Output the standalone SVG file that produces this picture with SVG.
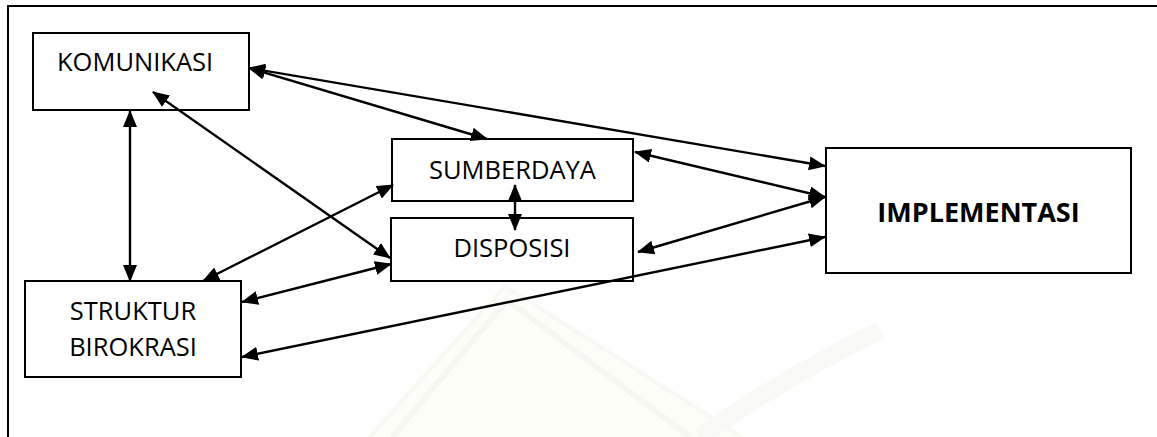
<svg xmlns="http://www.w3.org/2000/svg" width="1157" height="437" viewBox="0 0 1157 437">
  <style>
    .box { fill: #ffffff; stroke: #000000; stroke-width: 2; }
    .lbl { font-family: "Open Sans", "Noto Sans", "Liberation Sans", sans-serif; font-size: 25.5px; fill: #000000; }
    .bold { font-weight: bold; font-size: 27px; }
    .conn line { stroke: #000000; stroke-width: 2.4; marker-start: url(#ah); marker-end: url(#ah); }
  </style>
  <defs>
    <marker id="ah" markerUnits="userSpaceOnUse" markerWidth="17" markerHeight="14" refX="16" refY="7" orient="auto-start-reverse" viewBox="0 0 17 14">
      <path d="M0,0 L17,7 L0,14 z" fill="#000000"/>
    </marker>
  </defs>
  <rect x="0" y="0" width="1157" height="437" fill="#ffffff"/>
  <g id="watermark">
    <polygon points="365,437 505,283 745,437" fill="#fefef8"/>
    <polyline points="392,437 507,300 690,437" fill="none" stroke="#f6f6f2" stroke-width="6"/>
    <polyline points="370,437 505,286 742,437" fill="none" stroke="#f8f8f5" stroke-width="4"/>
    <path d="M700,437 Q780,380 880,330" fill="none" stroke="#f9f9f6" stroke-width="18"/>
  </g>
  <g id="frame">
    <rect x="8" y="6" width="1200" height="500" fill="none" stroke="#000000" stroke-width="2"/>
  </g>
  <g id="komunikasi">
    <rect class="box" x="33" y="33" width="216" height="77"/>
    <text class="lbl" x="57" y="71">KOMUNIKASI</text>
  </g>
  <g id="sumberdaya">
    <rect class="box" x="392" y="139" width="241" height="62"/>
    <text class="lbl" x="512.5" y="179" text-anchor="middle">SUMBERDAYA</text>
  </g>
  <g id="disposisi">
    <rect class="box" x="391" y="218" width="242" height="63"/>
    <text class="lbl" x="512" y="257" text-anchor="middle">DISPOSISI</text>
  </g>
  <g id="struktur">
    <rect class="box" x="25" y="281" width="216" height="96"/>
    <text class="lbl" x="133" y="320" text-anchor="middle">STRUKTUR</text>
    <text class="lbl" x="133" y="356" text-anchor="middle">BIROKRASI</text>
  </g>
  <g id="implementasi">
    <rect class="box" x="826" y="148" width="305" height="125"/>
    <text class="lbl bold" x="978.5" y="222" text-anchor="middle">IMPLEMENTASI</text>
  </g>
  <g id="connectors" class="conn">
    <line x1="249" y1="68" x2="825" y2="166"/>
    <line x1="249" y1="68" x2="487" y2="139"/>
    <line x1="153" y1="92" x2="390" y2="258"/>
    <line x1="130" y1="111" x2="130" y2="281"/>
    <line x1="203" y1="281" x2="393" y2="185"/>
    <line x1="242" y1="302" x2="391" y2="264"/>
    <line x1="515" y1="185" x2="515" y2="230"/>
    <line x1="635" y1="152" x2="825" y2="197"/>
    <line x1="638" y1="252" x2="825" y2="197"/>
    <line x1="242" y1="357" x2="825" y2="237"/>
  </g>
</svg>
